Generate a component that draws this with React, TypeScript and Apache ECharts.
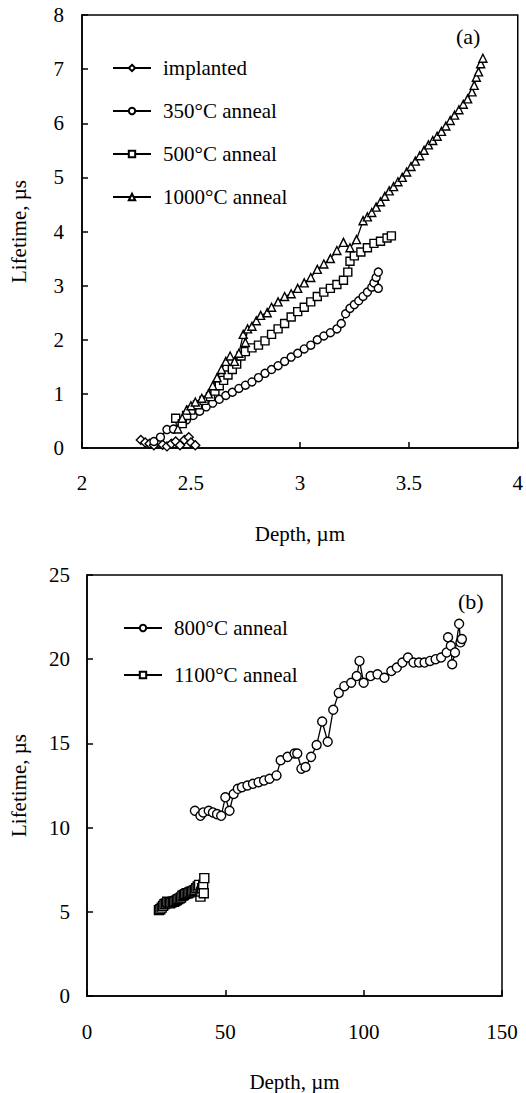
import React, { useEffect, useRef } from "react";
import * as echarts from "echarts";

const FONT = "Liberation Serif";

const topXTicks = [2, 2.5, 3, 3.5, 4];
const topYTicks = [0, 1, 2, 3, 4, 5, 6, 7, 8];
const botXTicks = [0, 50, 100, 150];
const botYTicks = [0, 5, 10, 15, 20, 25];

const implanted: [number, number][] = [
  [2.27, 0.15], [2.29, 0.1], [2.31, 0.08], [2.33, 0.05], [2.35, 0.12], [2.37, 0.06],
  [2.39, 0.03], [2.41, 0.08], [2.43, 0.12], [2.45, 0.05], [2.47, 0.15], [2.49, 0.2],
  [2.5, 0.1], [2.52, 0.05],
];

const anneal350: [number, number][] = [
  [2.33, 0.12], [2.36, 0.2], [2.39, 0.34], [2.42, 0.35], [2.45, 0.45], [2.48, 0.52],
  [2.51, 0.6], [2.54, 0.68], [2.57, 0.76], [2.6, 0.83], [2.63, 0.9], [2.66, 0.97],
  [2.69, 1.03], [2.72, 1.1], [2.75, 1.16], [2.78, 1.22], [2.81, 1.3], [2.84, 1.38],
  [2.87, 1.45], [2.9, 1.52], [2.93, 1.6], [2.96, 1.68], [2.99, 1.75], [3.02, 1.83],
  [3.05, 1.9], [3.08, 2.0], [3.11, 2.07], [3.14, 2.13], [3.17, 2.2], [3.19, 2.3],
  [3.21, 2.48], [3.23, 2.58], [3.25, 2.65], [3.27, 2.72], [3.29, 2.8], [3.31, 2.88],
  [3.33, 2.97], [3.34, 3.05], [3.35, 3.15], [3.36, 3.25], [3.36, 2.95],
];

const anneal500: [number, number][] = [
  [2.43, 0.55], [2.46, 0.45], [2.48, 0.6], [2.5, 0.7], [2.53, 0.8], [2.56, 0.88],
  [2.59, 0.95], [2.61, 1.05], [2.63, 1.15], [2.65, 1.25], [2.67, 1.35], [2.69, 1.45],
  [2.71, 1.55], [2.73, 1.7], [2.75, 1.78], [2.78, 1.85], [2.81, 1.9], [2.84, 1.98],
  [2.87, 2.1], [2.9, 2.2], [2.93, 2.3], [2.96, 2.42], [2.99, 2.52], [3.02, 2.6],
  [3.05, 2.7], [3.08, 2.8], [3.11, 2.88], [3.14, 2.95], [3.17, 3.02], [3.2, 3.1],
  [3.22, 3.25], [3.23, 3.45], [3.25, 3.55], [3.28, 3.62], [3.31, 3.7], [3.34, 3.78],
  [3.37, 3.82], [3.4, 3.88], [3.42, 3.92],
];

const anneal1000: [number, number][] = [
  [2.44, 0.35], [2.46, 0.55], [2.48, 0.7], [2.5, 0.78], [2.52, 0.85], [2.55, 0.92],
  [2.58, 1.0], [2.6, 1.15], [2.62, 1.3], [2.64, 1.45], [2.66, 1.6], [2.68, 1.7],
  [2.7, 1.6], [2.72, 1.75], [2.74, 2.1], [2.75, 1.95], [2.76, 2.2], [2.78, 2.25],
  [2.8, 2.35], [2.82, 2.45], [2.85, 2.5], [2.87, 2.6], [2.9, 2.7], [2.93, 2.8],
  [2.96, 2.85], [2.99, 2.95], [3.02, 3.05], [3.05, 3.15], [3.08, 3.3], [3.11, 3.4],
  [3.14, 3.5], [3.17, 3.65], [3.2, 3.8], [3.23, 3.7], [3.26, 3.85], [3.29, 4.2],
  [3.31, 4.27], [3.33, 4.35], [3.35, 4.45], [3.37, 4.55], [3.39, 4.65], [3.41, 4.75],
  [3.43, 4.83], [3.45, 4.92], [3.47, 5.0], [3.49, 5.1], [3.51, 5.2], [3.53, 5.3],
  [3.55, 5.4], [3.57, 5.5], [3.59, 5.6], [3.61, 5.68], [3.63, 5.76], [3.65, 5.85],
  [3.67, 5.95], [3.69, 6.05], [3.71, 6.15], [3.73, 6.25], [3.75, 6.35], [3.77, 6.45],
  [3.79, 6.58], [3.8, 6.7], [3.81, 6.85], [3.82, 6.95], [3.83, 7.1], [3.84, 7.2],
];

const anneal800: [number, number][] = [
  [39, 11.0], [41, 10.7], [42, 10.9], [44, 11.0], [45.5, 10.9], [47, 10.8], [48.5, 10.7],
  [50, 11.8], [51.5, 11.0], [53, 12.0], [54.5, 12.3], [56, 12.4], [58, 12.5], [60, 12.6],
  [62, 12.7], [64, 12.8], [66, 12.9], [68.5, 13.1], [70, 14.0], [72.5, 14.2], [75, 14.4],
  [76, 14.4], [77.5, 13.5], [79, 13.6], [81, 14.2], [83, 14.9], [85, 16.3], [87, 15.1],
  [89, 17.0], [91, 18.0], [93, 18.4], [95.5, 18.6], [97.5, 19.0], [98.5, 19.9],
  [100, 18.6], [102.5, 19.0], [105, 19.1], [107.5, 18.9], [110, 19.3], [112, 19.5],
  [114, 19.8], [116, 20.1], [118, 19.8], [120, 19.8], [122, 19.8], [124, 19.9],
  [126, 20.0], [128, 20.1], [130, 20.4], [130.5, 21.3], [131.5, 20.8], [132, 19.7],
  [133, 20.4], [134.5, 22.1], [135, 21.0], [135.5, 21.2],
];

const anneal1100: [number, number][] = [
  [26, 5.1], [26.5, 5.15], [27, 5.25], [27.5, 5.35], [28, 5.45], [28.5, 5.5],
  [29, 5.6], [29.5, 5.55], [30, 5.5], [30.5, 5.55], [31, 5.6], [31.5, 5.6],
  [32, 5.65], [32.5, 5.7], [33, 5.75], [33.5, 5.8], [34, 5.85], [34.5, 5.95],
  [35, 6.0], [35.5, 6.05], [36, 6.1], [36.5, 6.1], [37, 6.15], [37.5, 6.2],
  [38, 6.2], [38.5, 6.25], [39, 6.3], [39.5, 6.4], [40, 6.5], [40.5, 6.6],
  [41, 5.9], [41.3, 6.2], [41.6, 6.4], [42, 6.6], [42.4, 7.0], [42.2, 6.1],
];

const black = "#000";

function mkSeries(name: string, data: [number, number][], symbol: string, idx: number, size = 8) {
  return {
    name,
    type: "line",
    xAxisIndex: idx,
    yAxisIndex: idx,
    data,
    symbol,
    symbolSize: size,
    showAllSymbol: true,
    lineStyle: { color: black, width: 1.3 },
    itemStyle: { color: "#fff", borderColor: black, borderWidth: 1.4 },
  };
}

function xAxis(idx: number, ticks: number[], name: string, margin: number) {
  return {
    type: "value",
    gridIndex: idx,
    min: ticks[0],
    max: ticks[ticks.length - 1],
    interval: ticks[1] - ticks[0],
    name,
    nameLocation: "middle",
    nameGap: 75,
    nameTextStyle: { fontFamily: FONT, fontSize: 21, color: black },
    axisLine: { show: true, lineStyle: { color: black, width: 1.5 } },
    axisTick: { show: true, inside: true, length: 6, lineStyle: { color: black, width: 1.5 } },
    axisLabel: { fontFamily: FONT, fontSize: 21, color: black, margin },
    splitLine: { show: false },
  };
}

function yAxis(idx: number, ticks: number[], gap: number, margin: number) {
  return {
    type: "value",
    gridIndex: idx,
    min: ticks[0],
    max: ticks[ticks.length - 1],
    interval: ticks[1] - ticks[0],
    name: "Lifetime, µs",
    nameLocation: "middle",
    nameGap: gap,
    nameRotate: 90,
    nameTextStyle: { fontFamily: FONT, fontSize: 21, color: black },
    axisLine: { show: true, lineStyle: { color: black, width: 1.5 } },
    axisTick: { show: true, inside: true, length: 6, lineStyle: { color: black, width: 1.5 } },
    axisLabel: { fontFamily: FONT, fontSize: 21, color: black, margin },
    splitLine: { show: false },
  };
}

export default function App() {
  const ref = useRef<HTMLDivElement>(null);
  useEffect(() => {
    if (!ref.current) return;
    const chart = echarts.init(ref.current, null, { renderer: "svg" });
    chart.setOption({
      animation: false,
      backgroundColor: "#fff",
      grid: [
        { left: 76, top: 15, width: 442, height: 433, show: true, borderColor: black, borderWidth: 1.5, backgroundColor: "transparent" },
        { left: 80, top: 575, width: 422, height: 430, show: true, borderColor: black, borderWidth: 1.5, backgroundColor: "transparent" },
      ],
      xAxis: [xAxis(0, topXTicks, "Depth, µm", 24), xAxis(1, botXTicks, "Depth, µm", 25)],
      yAxis: [yAxis(0, topYTicks, 53, 18), yAxis(1, botYTicks, 58, 17)],
      legend: [
        {
          data: ["implanted", "350°C anneal", "500°C anneal", "1000°C anneal"],
          orient: "vertical",
          left: 107,
          top: 51,
          itemWidth: 38,
          itemHeight: 8,
          itemGap: 19,
          textStyle: { fontFamily: FONT, fontSize: 21, color: black, lineHeight: 24, padding: [0, 0, 0, 7] },
          selectedMode: false,
        },
        {
          data: ["800°C anneal", "1100°C anneal"],
          orient: "vertical",
          left: 118,
          top: 611,
          itemWidth: 38,
          itemHeight: 8,
          itemGap: 23,
          textStyle: { fontFamily: FONT, fontSize: 21, color: black, lineHeight: 24, padding: [0, 0, 0, 7] },
          selectedMode: false,
        },
      ],
      graphic: [
        { type: "text", left: 456, top: 25, style: { text: "(a)", font: `22px '${FONT}'`, fill: black } },
        { type: "text", left: 458, top: 590, style: { text: "(b)", font: `22px '${FONT}'`, fill: black } },
      ],
      series: [
        mkSeries("implanted", implanted, "diamond", 0, 9),
        mkSeries("350°C anneal", anneal350, "circle", 0),
        mkSeries("500°C anneal", anneal500, "rect", 0),
        mkSeries("1000°C anneal", anneal1000, "triangle", 0),
        mkSeries("800°C anneal", anneal800, "circle", 1, 9),
        mkSeries("1100°C anneal", anneal1100, "rect", 1, 9),
      ],
    });
    return () => chart.dispose();
  }, []);
  return (
    <div
      ref={ref}
      style={{ position: "absolute", left: 0, top: 0, width: 526, height: 1093, background: "#fff" }}
    />
  );
}
